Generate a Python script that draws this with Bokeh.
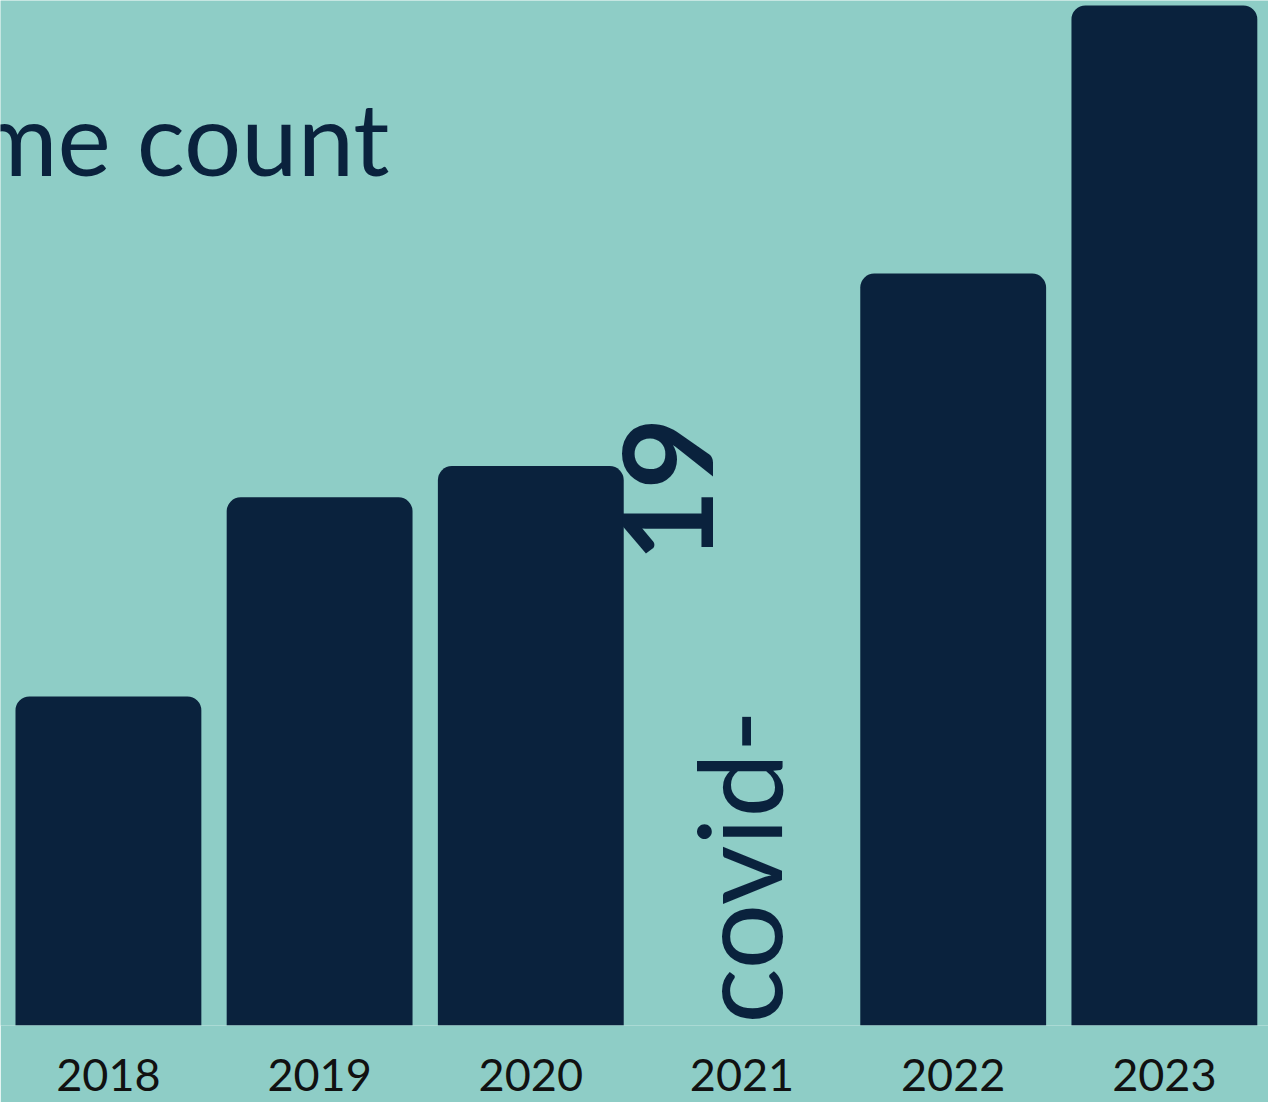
import math
from bokeh.plotting import figure
from bokeh.models import Range1d, Label, ColumnDataSource
from bokeh.embed import file_html
from bokeh.resources import INLINE

# ---- data ----
years = ["2018", "2019", "2020", "2021", "2022", "2023"]
counts = [10, 16.05, 17, None, 22.85, 31]
title_text = "me count"
note_lower = "covid-"
note_upper = "19"

BG = "#8ECDC6"
NAVY = "#0A223D"

xs = [i for i, c in enumerate(counts) if c is not None]
tops = [c for c in counts if c is not None]
src = ColumnDataSource(dict(x=xs, top=tops))

p = figure(width=1268, height=1102, output_backend="svg", toolbar_location=None,
           x_range=Range1d(-0.511, 5.493), y_range=Range1d(0, 31.15),
           min_border_left=0, min_border_right=0, min_border_top=0, min_border_bottom=77)
p.background_fill_color = BG
p.border_fill_color = BG
p.outline_line_color = None
p.xgrid.visible = False
p.ygrid.visible = False
p.yaxis.visible = False

p.vbar(x="x", top="top", bottom=0, width=0.88, source=src,
       fill_color=NAVY, line_color=None, border_radius=(14, 14, 0, 0))

ax = p.xaxis[0]
ax.ticker = list(range(len(years)))
ax.major_label_overrides = {i: y for i, y in enumerate(years)}
ax.axis_line_color = None
ax.major_tick_line_color = None
ax.minor_tick_line_color = None
ax.major_label_text_font = "Lato"
ax.major_label_text_font_size = "45px"
ax.major_label_text_color = "#111111"
ax.major_label_standoff = 27
ax.major_label_text_line_height = 0.8

p.add_layout(Label(x=-0.634, y=27.0, text=title_text, text_font="Lato",
                   text_font_style="normal", text_font_size="101px", text_color=NAVY,
                   text_align="left", text_baseline="alphabetic"))
p.add_layout(Label(x=2.978, y=0.05, text=note_lower, text_font="Lato",
                   text_font_size="116px", text_color=NAVY, angle=math.pi / 2,
                   text_align="left", text_baseline="alphabetic"))
p.add_layout(Label(x=2.647, y=14.1, text=note_upper, text_font="Lato",
                   text_font_style="bold", text_font_size="124px", text_color=NAVY,
                   angle=math.pi / 2, text_align="left", text_baseline="alphabetic"))

open("out.html", "w").write(file_html(p, INLINE))
